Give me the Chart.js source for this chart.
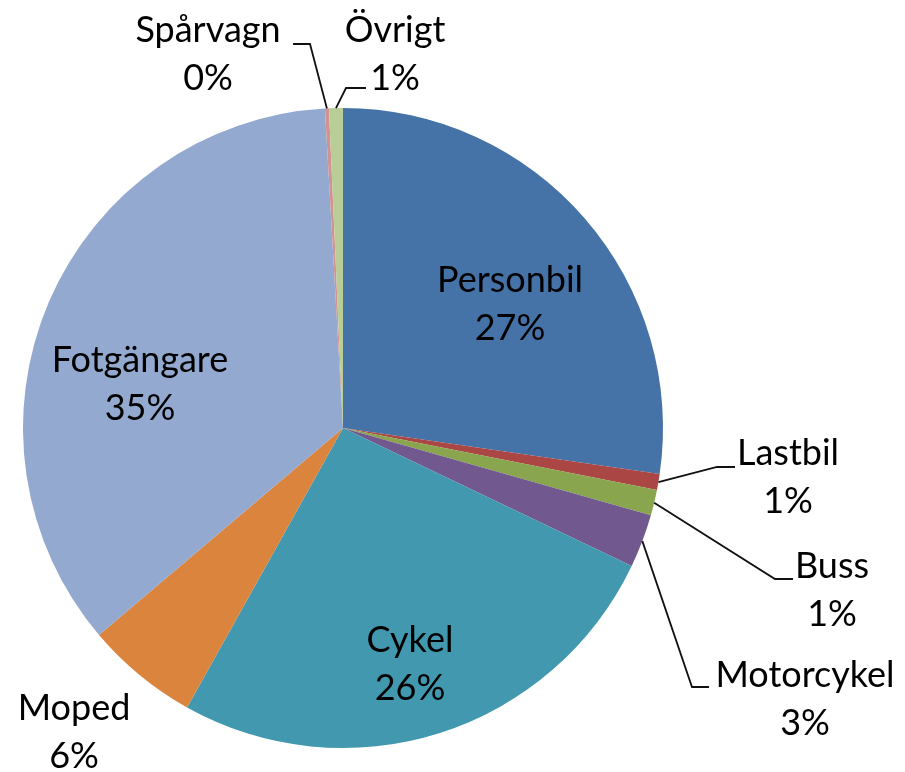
<!DOCTYPE html>
<html>
<head>
<meta charset="utf-8">
<script src="https://cdn.jsdelivr.net/npm/chart.js@4"></script>
<style>
  html, body { margin: 0; padding: 0; background: #fff; }
  canvas { display: block; }
</style>
</head>
<body>
<canvas id="pieChart" width="905" height="772"></canvas>
<script>
const categories = ['Personbil', 'Lastbil', 'Buss', 'Motorcykel', 'Cykel', 'Moped', 'Fotgängare', 'Spårvagn', 'Övrigt'];
const shares = [27.3, 0.8, 1.3, 2.7, 26.0, 5.7, 35.3, 0.2, 0.7];
const colors = ['#4572A7', '#AA4643', '#89A54E', '#71588F', '#4198AF', '#DB843D', '#93A9CF', '#D19392', '#B9CD96'];

// where each label goes (text center x, first baseline y) and, for outside labels, the leader elbow + end
const labelLayout = [
  { x: 510, y: 292 },
  { x: 788, y: 465, elbow: [717, 467], end: [735, 467] },
  { x: 832, y: 578, elbow: [775, 579], end: [793, 579] },
  { x: 805, y: 687, elbow: [692, 687], end: [709, 687] },
  { x: 410, y: 652 },
  { x: 74, y: 720 },
  { x: 140, y: 372 },
  { x: 208, y: 42, elbow: [310, 44], end: [293, 44] },
  { x: 395, y: 42, elbow: [346, 88], end: [366, 88] }
];

const total = shares.reduce((a, b) => a + b, 0);

const pieLabels = {
  id: 'pieLabels',
  afterDatasetsDraw(chart) {
    const ctx = chart.ctx;
    const meta = chart.getDatasetMeta(0);
    ctx.save();
    ctx.strokeStyle = '#111';
    ctx.lineWidth = 1.8;
    ctx.fillStyle = '#000';
    ctx.font = '36px Lato';
    ctx.textAlign = 'center';
    ctx.textBaseline = 'alphabetic';
    meta.data.forEach((arc, i) => {
      const L = labelLayout[i];
      if (L.elbow) {
        const p = arc.getProps(['x', 'y', 'startAngle', 'endAngle', 'outerRadius'], true);
        const mid = (p.startAngle + p.endAngle) / 2;
        const sx = p.x + Math.cos(mid) * p.outerRadius;
        const sy = p.y + Math.sin(mid) * p.outerRadius;
        ctx.beginPath();
        ctx.moveTo(sx, sy);
        ctx.lineTo(L.elbow[0], L.elbow[1]);
        ctx.lineTo(L.end[0], L.end[1]);
        ctx.stroke();
      }
      const pct = Math.round(shares[i] / total * 100) + '%';
      ctx.fillText(categories[i], L.x, L.y);
      ctx.fillText(pct, L.x, L.y + 48);
    });
    ctx.restore();
  }
};

new Chart(document.getElementById('pieChart'), {
  type: 'pie',
  data: {
    labels: categories,
    datasets: [{
      data: shares,
      backgroundColor: colors,
      borderWidth: 0
    }]
  },
  options: {
    responsive: false,
    animation: false,
    layout: { padding: { left: 23, right: 242, top: 108, bottom: 24 } },
    plugins: {
      legend: { display: false },
      tooltip: { enabled: false }
    }
  },
  plugins: [pieLabels]
});
</script>
</body>
</html>
